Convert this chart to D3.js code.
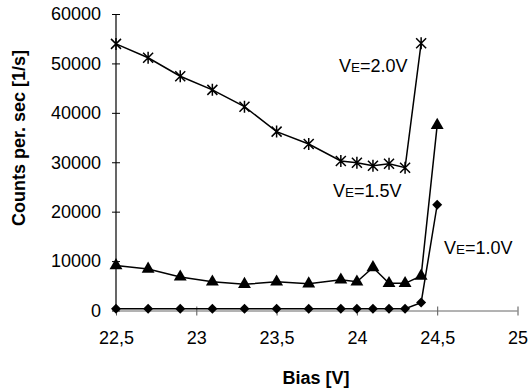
<!DOCTYPE html>
<html><head><meta charset="utf-8">
<script src="https://cdn.jsdelivr.net/npm/d3@7"></script>
<style>
body{margin:0;background:#fff;}
svg{display:block;font-family:Arial,"Liberation Sans",sans-serif;}
</style></head>
<body><svg id="c" width="529" height="392"></svg>
<script>
// Data
const biasStar = [22.5,22.7,22.9,23.1,23.3,23.5,23.7,23.9,24.0,24.1,24.2,24.3,24.4];
const countsVE20 = [53950,51150,47400,44650,41250,36200,33700,30250,29900,29300,29700,28900,54100];
const biasTri = [22.5,22.7,22.9,23.1,23.3,23.5,23.7,23.9,24.0,24.1,24.2,24.3,24.4,24.5];
const countsVE15 = [9100,8400,6800,5800,5300,5800,5400,6200,5800,8700,5500,5500,7000,37500];
const biasDia = [22.5,22.7,22.9,23.1,23.3,23.5,23.7,23.9,24.0,24.1,24.2,24.3,24.4,24.5];
const countsVE10 = [350,350,350,350,350,350,350,350,350,350,350,350,1600,21400];
const xTicks = [22.5,23,23.5,24,24.5,25];
const yTicks = [0,10000,20000,30000,40000,50000,60000];
const seriesLabels = [
  {v:"V", e:"E", rest:"=2.0V"},
  {v:"V", e:"E", rest:"=1.5V"},
  {v:"V", e:"E", rest:"=1.0V"}
];

const svg = d3.select("#c");
const x = d3.scaleLinear().domain([22.5,25]).range([116,517.5]);
const y = d3.scaleLinear().domain([0,60000]).range([310.5,14]);

// Y axis
const yAxis = svg.append("g").attr("transform","translate(116,0)")
  .call(d3.axisLeft(y).tickValues(yTicks).tickSize(4).tickPadding(10).tickFormat(d3.format("d")));
yAxis.select(".domain").remove();
yAxis.selectAll(".tick line").attr("x1",-4).attr("x2",4).attr("stroke","#000");
yAxis.selectAll(".tick text").attr("font-size",18).attr("font-family","Arial, 'Liberation Sans', sans-serif").attr("fill","#000").attr("dx",-1);
svg.append("line").attr("x1",116).attr("x2",116).attr("y1",y(60000)).attr("y2",y(0)).attr("stroke","#000").attr("stroke-width",1.2);

// X axis
const fmtX = d => String(d).replace(".",",");
const xAxis = svg.append("g").attr("transform","translate(0,310.5)")
  .call(d3.axisBottom(x).tickValues(xTicks).tickSize(5).tickPadding(16).tickFormat(fmtX));
xAxis.select(".domain").remove();
xAxis.selectAll(".tick line").attr("y1",-4).attr("y2",5).attr("stroke","#555");
xAxis.selectAll(".tick text").attr("font-size",18).attr("font-family","Arial, 'Liberation Sans', sans-serif").attr("fill","#000");
svg.append("line").attr("x1",x(22.5)).attr("x2",x(25)).attr("y1",311).attr("y2",311).attr("stroke","#666").attr("stroke-width",1);

// Axis titles
svg.append("text").attr("transform","translate(25,138) rotate(-90)").attr("text-anchor","middle")
  .attr("font-size",18).attr("font-weight","bold").text("Counts per. sec [1/s]");
svg.append("text").attr("x",316).attr("y",384).attr("text-anchor","middle")
  .attr("font-size",18).attr("font-weight","bold").text("Bias [V]");

const line = d3.line().x(d=>x(d[0])).y(d=>y(d[1]));
function series(xs, ys){ return xs.map((v,i)=>[v,ys[i]]); }
const sDia = series(biasDia, countsVE10);
const sTri = series(biasTri, countsVE15);
const sStar = series(biasStar, countsVE20);

[sDia, sTri, sStar].forEach(s=>{
  svg.append("path").datum(s).attr("d",line).attr("fill","none").attr("stroke","#000").attr("stroke-width",1.5);
});

// Diamonds
svg.append("g").selectAll("path").data(sDia).join("path")
  .attr("transform",d=>`translate(${x(d[0])},${y(d[1])}) rotate(45)`)
  .attr("d",d3.symbol(d3.symbolSquare,50)()).attr("fill","#000");
// Triangles
svg.append("g").selectAll("path").data(sTri).join("path")
  .attr("transform",d=>`translate(${x(d[0])},${y(d[1])})`)
  .attr("d",d3.symbol(d3.symbolTriangle,72)()).attr("fill","#000");
// Stars
svg.append("g").selectAll("path").data(sStar).join("path")
  .attr("transform",d=>`translate(${x(d[0])},${y(d[1])})`)
  .attr("d","M-5,-5L5,5M-5,5L5,-5M0,-6L0,6").attr("fill","none").attr("stroke","#000").attr("stroke-width",1.5);

// Series labels
const labelPos = [[339,72],[333,197],[444,254]];
seriesLabels.forEach((l,i)=>{
  const t = svg.append("text").attr("x",labelPos[i][0]).attr("y",labelPos[i][1]).attr("font-size",18);
  t.append("tspan").text(l.v);
  t.append("tspan").attr("font-size",13.5).text(l.e);
  t.append("tspan").text(l.rest);
});
</script></body></html>
